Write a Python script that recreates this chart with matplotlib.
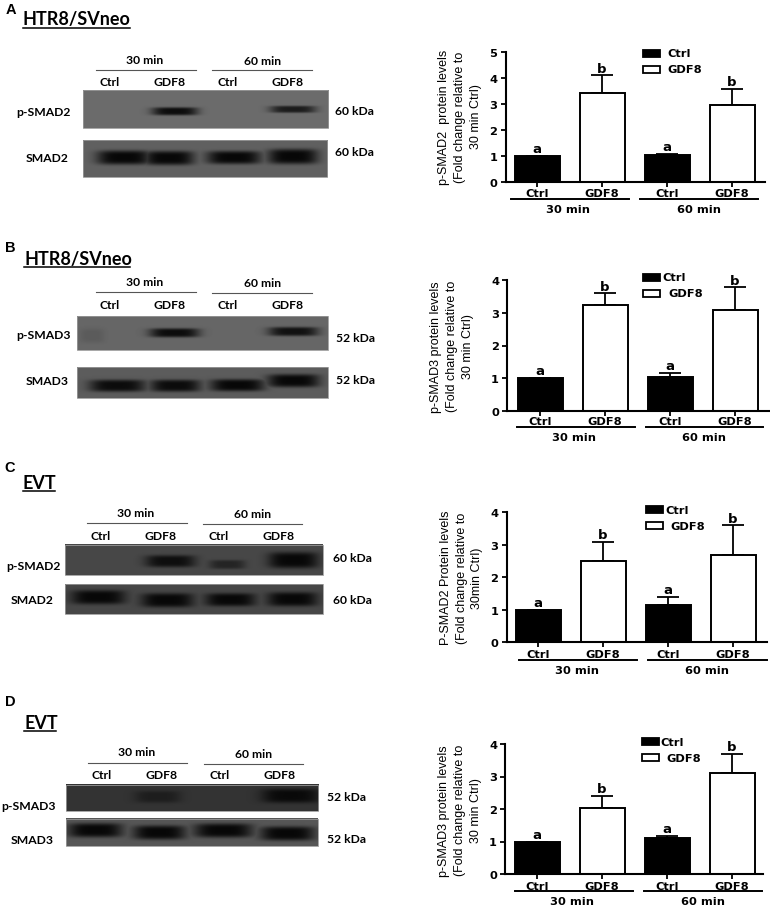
#!/usr/bin/python
# coding: UTF-8

'''
western blots + bar charts, 4 panels (A-D)
python plot.py
'''

import numpy as np
import matplotlib
matplotlib.use('Agg')
import matplotlib.pyplot as plt
from matplotlib.patches import Rectangle

W, H = 770, 912
ARIAL = 'Liberation Sans'
WIDE = 'DejaVu Sans'
CALIBRI = 'Lato'

# bar values, order is Ctrl 30, GDF8 30, Ctrl 60, GDF8 60
labels = ['Ctrl', 'GDF8', 'Ctrl', 'GDF8']
letters = ['a', 'b', 'a', 'b']
groups = ['30 min', '60 min']

means_a = [1.0, 3.42, 1.03, 2.95]
errs_a = [0.0, 0.68, 0.05, 0.62]
means_b = [1.0, 3.25, 1.03, 3.1]
errs_b = [0.0, 0.35, 0.14, 0.68]
means_c = [1.0, 2.5, 1.15, 2.7]
errs_c = [0.0, 0.6, 0.25, 0.9]
means_d = [1.0, 2.03, 1.1, 3.12]
errs_d = [0.0, 0.37, 0.07, 0.58]

yticks_a = [0, 1, 2, 3, 4, 5]
yticks_rest = [0, 1, 2, 3, 4]

ylabel_a = 'p-SMAD2  protein levels\n(Fold change relative to\n30 min Ctrl)'
ylabel_b = 'p-SMAD3 protein levels\n(Fold change relative to\n30 min Ctrl)'
ylabel_c = 'P-SMAD2 Protein levels\n(Fold change relative to\n30min Ctrl)'
ylabel_d = 'p-SMAD3 protein levels\n(Fold change relative to\n30 min Ctrl)'

# pixel layout of each bar chart
charts = [
    dict(means=means_a, errs=errs_a, ticks=yticks_a, ylabel=ylabel_a, left=505.7, right=765, top=53, bottom=183,
         centers=[537, 602, 667, 732], ylab=(460, 117), tick_y=194, line_y=199.7, group_y=210,
         lines=[(510.7, 629), (640, 758)], group_x=[568, 699],
         swatch=(643, [54, 70]), legend_x=[667, 667]),
    dict(means=means_b, errs=errs_b, ticks=yticks_rest, ylabel=ylabel_b, left=507.3, right=769, top=281.3, bottom=411.7,
         centers=[540, 605, 670, 735], ylab=(452, 346.7), tick_y=422, line_y=428, group_y=437.7,
         lines=[(516.7, 635), (645.7, 763)], group_x=[574, 704],
         swatch=(643, [278, 294]), legend_x=[662.7, 668]),
    dict(means=means_c, errs=errs_c, ticks=yticks_rest, ylabel=ylabel_c, left=506.7, right=766.7, top=513.3, bottom=643.3,
         centers=[538, 603, 668, 733], ylab=(461.5, 578), tick_y=655, line_y=660.7, group_y=670.7,
         lines=[(519, 637), (648, 767)], group_x=[576.7, 707],
         swatch=(646, [510.7, 526.7]), legend_x=[665, 670]),
    dict(means=means_d, errs=errs_d, ticks=yticks_rest, ylabel=ylabel_d, left=505.3, right=763, top=745, bottom=875,
         centers=[537, 602, 667, 732], ylab=(460, 810.7), tick_y=886.7, line_y=892.3, group_y=902,
         lines=[(515, 633), (644, 762)], group_x=[572, 703],
         swatch=(641.7, [742.7, 758.7]), legend_x=[660, 666]),
]

# blot strips: box, background grey, bands (x, half width, y, half height, strength)
blots = [
    dict(box=(82.5, 328, 90.7, 128.5), bg=0.42,
         bands=[(174, 23, 111.5, 4, 0.95), (292, 23, 109.5, 3.5, 0.8)]),
    dict(box=(82.5, 327, 141, 178), bg=0.38,
         bands=[(123, 27, 158, 7, 1), (168, 25, 158.5, 7, 1), (233, 27, 158, 6.5, 1), (292, 25, 157, 7.5, 1)]),
    dict(box=(77, 328, 316.7, 350.7), bg=0.40,
         bands=[(92, 12, 336, 7, 0.12), (174, 25, 333, 4.5, 0.95), (293, 25, 331.7, 4.5, 0.9)]),
    dict(box=(77, 327.5, 368.3, 399), bg=0.36,
         bands=[(117, 28, 386.5, 6, 0.95), (175, 25, 386.5, 6, 0.95), (237, 27, 386, 6, 1), (293, 26, 381.5, 6.5, 1)]),
    dict(box=(65, 323, 546, 576.3), bg=0.28,
         bands=[(170, 25, 562.7, 6, 0.9), (227, 18, 566, 4.5, 0.55), (293, 25, 561.7, 8, 1)]),
    dict(box=(65, 322.5, 585.3, 615), bg=0.28,
         bands=[(98, 27, 598, 7, 1), (167, 26, 601, 7, 1), (230, 25, 600.5, 6.5, 1), (292, 25, 600, 7, 1)]),
    dict(box=(65.5, 318, 785.7, 812.3), bg=0.20,
         bands=[(157, 23, 798, 6, 0.5), (290, 29, 797, 7, 0.95)]),
    dict(box=(66, 318, 820, 847.3), bg=0.34,
         bands=[(95, 27, 831.7, 7, 1), (159, 26, 834, 7, 1), (223, 29, 832, 7, 1), (287, 27, 835, 7, 1)]),
]

# cell type titles and letters: letter x, y, title x, y, underline x end, y
titles = [
    ('A', 11, 10, 'HTR8/SVneo', 23, 20, 130, 29),
    ('B', 10, 248, 'HTR8/SVneo', 24, 260, 130, 268),
    ('C', 10, 468, 'EVT', 23, 484, 55, 492),
    ('D', 10, 702, 'EVT', 24, 724, 56, 732),
]

# blot labels: group x,y pairs, line spans, lane x, lane y, blot label x,y, kDa x,y
blot_text = [
    dict(g=[(145, 60), (263, 61.5)], gl=[(96, 195.5, 70.7), (212, 312, 71)], lanes=[110, 170, 228, 288], lane_y=82.5,
         names=[('p-SMAD2', 43.5, 113), ('SMAD2', 47, 159)], kda=[('60 kDa', 354, 111.5), ('60 kDa', 354, 153)]),
    dict(g=[(145, 282.7), (263, 284)], gl=[(96, 195.5, 293), (212, 312, 294)], lanes=[110, 170, 228, 288], lane_y=305.7,
         names=[('p-SMAD3', 43.5, 336), ('SMAD3', 47, 381.7)], kda=[('52 kDa', 355, 339), ('52 kDa', 355, 380.7)]),
    dict(g=[(135.7, 514), (253, 515)], gl=[(87, 186.5, 524), (203, 302, 525)], lanes=[101, 161, 219, 279], lane_y=536.7,
         names=[('p-SMAD2', 33.5, 566.7), ('SMAD2', 32, 601)], kda=[('60 kDa', 352, 559), ('60 kDa', 352, 601)]),
    dict(g=[(136.5, 753), (254, 755)], gl=[(87.5, 187, 763.5), (204, 303, 764.5)], lanes=[101.5, 161.5, 219.5, 279.5], lane_y=776,
         names=[('p-SMAD3', 29, 806.7), ('SMAD3', 32.5, 840.7)], kda=[('52 kDa', 346.7, 798), ('52 kDa', 346.7, 840)]),
]


def blot_image(box, bg, bands):
    x0, x1, y0, y1 = box
    xx, yy = np.meshgrid(np.arange(x0, x1), np.arange(y0, y1))
    img = np.full(xx.shape, bg, dtype=float)
    for cx, hw, cy, hh, strength in bands:
        shape = np.exp(-((xx - cx) / hw) ** 4) * np.exp(-((yy - cy) / hh) ** 4)
        img = np.minimum(img, bg - (bg - 0.03) * strength * shape)
    return img


fig = plt.figure(figsize=(W / 100, H / 100), dpi=100)

# overlay in pixel coordinates for the blots and the loose text
ov = fig.add_axes([0, 0, 1, 1])
ov.set_xlim(0, W)
ov.set_ylim(H, 0)
ov.axis('off')
ov.set_autoscale_on(False)

for b in blots:
    x0, x1, y0, y1 = b['box']
    ov.imshow(blot_image(b['box'], b['bg'], b['bands']), cmap='gray', vmin=0, vmax=1,
              extent=(x0, x1, y1, y0), aspect='auto', interpolation='bilinear')
    ov.add_patch(Rectangle((x0, y0), x1 - x0, y1 - y0, fill=False, ec='#999999', lw=0.6))

for letter, lx, ly, title, tx, ty, ux, uy in titles:
    ov.text(lx, ly, letter, family=ARIAL, weight='bold', fontsize=10.5, ha='center', va='center')
    ov.text(tx, ty, title, family=CALIBRI, weight='bold', fontsize=13, ha='left', va='center')
    ov.plot([tx, ux], [uy, uy], color='black', lw=1.1)

for t in blot_text:
    for name, (gx, gy) in zip(groups, t['g']):
        ov.text(gx, gy, name, family=CALIBRI, weight='bold', fontsize=8.7, ha='center', va='center')
    for a, b, ly in t['gl']:
        ov.plot([a, b], [ly, ly], color='#555555', lw=0.8)
    for name, lx in zip(labels, t['lanes']):
        ov.text(lx, t['lane_y'], name, family=CALIBRI, weight='bold', fontsize=8.7, ha='center', va='center')
    for name, nx, ny in t['names'] + t['kda']:
        ov.text(nx, ny, name, family=CALIBRI, weight='bold', fontsize=8.7, ha='center', va='center')

for c in charts:
    ax = fig.add_axes([c['left'] / W, 1 - c['bottom'] / H, (c['right'] - c['left']) / W, (c['bottom'] - c['top']) / H])
    ax.patch.set_alpha(0)
    x = np.array([1, 2, 3, 4])
    step = c['centers'][1] - c['centers'][0]
    colors = ['black', 'white', 'black', 'white']
    ax.bar(x, c['means'], width=45 / step, color=colors, edgecolor='black', linewidth=1.4, zorder=2)
    ax.errorbar(x, c['means'], yerr=[np.zeros(4), c['errs']], fmt='none', ecolor='black',
                elinewidth=1.3, capsize=8, capthick=1.3, zorder=1)
    ax.set_xlim(1 - (c['centers'][0] - c['left']) / step, 4 + (c['right'] - c['centers'][3]) / step)
    ax.set_ylim(c['ticks'][0], c['ticks'][-1])
    ax.set_yticks(c['ticks'])
    ax.set_xticks(x)
    ax.set_xticklabels([])
    ax.spines['top'].set_visible(False)
    ax.spines['right'].set_visible(False)
    ax.spines['left'].set_linewidth(1.5)
    ax.spines['bottom'].set_linewidth(1.5)
    ax.tick_params(axis='both', length=3.5, width=1.3, pad=2.5)
    for tl in ax.get_yticklabels():
        tl.set_family(WIDE)
        tl.set_weight('bold')
        tl.set_fontsize(8.2)
    for xi, m, e, s in zip(x, c['means'], c['errs'], letters):
        ax.annotate(s, (xi, m + e), xytext=(0, 2.7), textcoords='offset points', ha='center', va='baseline',
                    family=WIDE, weight='bold', fontsize=9.5, annotation_clip=False)

    for name, cx in zip(labels, c['centers']):
        ov.text(cx, c['tick_y'], name, family=WIDE, weight='bold', fontsize=8.2, ha='center', va='center')
    for (a, b), gx, name in zip(c['lines'], c['group_x'], groups):
        ov.plot([a, b], [c['line_y'], c['line_y']], color='black', lw=1.4)
        ov.text(gx, c['group_y'], name, family=WIDE, weight='bold', fontsize=8.2, ha='center', va='center')

    ov.text(c['ylab'][0], c['ylab'][1], c['ylabel'], family=ARIAL, fontsize=9, rotation=90, ha='center', va='center',
            ma='center', linespacing=1.42)

    sx, sy = c['swatch']
    for name, yy, tx, col in zip(['Ctrl', 'GDF8'], sy, c['legend_x'], ['black', 'white']):
        ov.add_patch(Rectangle((sx, yy - 3.5), 17, 7, fc=col, ec='black', lw=1.3))
        ov.text(tx, yy, name, family=WIDE, weight='bold', fontsize=8.2, ha='left', va='center')

plt.savefig('out.png', dpi=100)
